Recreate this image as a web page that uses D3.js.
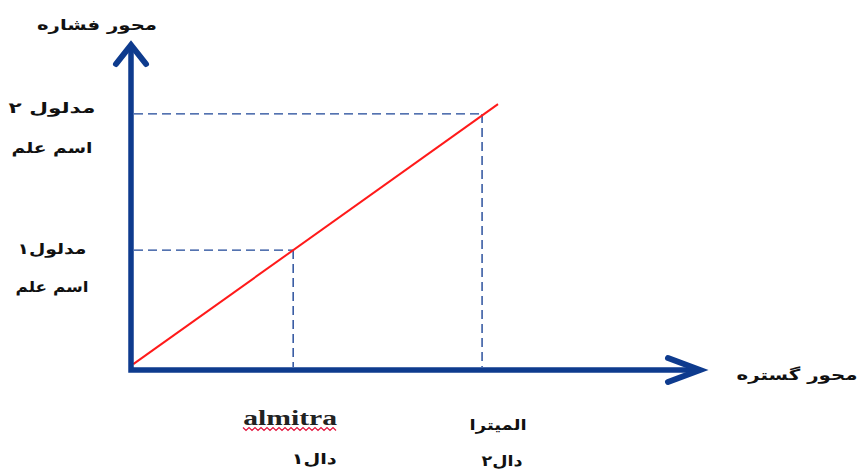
<!DOCTYPE html>
<html>
<head>
<meta charset="utf-8">
<script src="https://cdn.jsdelivr.net/npm/d3@7"></script>
<style>
	body { margin: 0; background: #fff; }
	svg { display: block; }
	.fa { font-family: "DejaVu Sans", sans-serif; font-size: 15px; font-weight: bold; fill: #111; }
</style>
</head>
<body>
<script>
	var w = 861;
	var h = 470;

	// data: axis extent, the red line and the two marked points
	var axisMax = [10, 10];
	var lineX = [0.04, 6.45];
	var lineY = [0.18, 8.18];
	var markX = [2.85, 6.17];
	var markY = [3.69, 7.88];

	// texts
	var yTitle = "محور فشاره";
	var xTitle = "محور گستره";
	var yLabels = [["مدلول۱", "اسم علم"], ["مدلول ۲", "اسم علم"]];
	var xLabels = [["almitra", "دال۱"], ["المیترا", "دال۲"]];

	var x = d3.scaleLinear().domain([0, axisMax[0]]).range([131, 700]);
	var y = d3.scaleLinear().domain([0, axisMax[1]]).range([370, 45]);

	var svg = d3.select("body").append("svg")
		.attr("width", w)
		.attr("height", h);

	var axisColor = "#0e3b8e";

	function label(txt, cx, cy, len) {
		return svg.append("text").attr("class", "fa").attr("direction", "rtl")
			.attr("x", cx).attr("y", cy)
			.attr("text-anchor", "middle").attr("dominant-baseline", "central")
			.attr("textLength", len).attr("lengthAdjust", "spacingAndGlyphs")
			.text(txt);
	}

	// dashed guides
	for (var i = 0; i < markX.length; i++) {
		svg.append("line")
			.attr("x1", x(0) + 3).attr("y1", y(markY[i]))
			.attr("x2", x(markX[i])).attr("y2", y(markY[i]))
			.attr("stroke", "#1d4597").attr("stroke-width", 1.4)
			.attr("stroke-dasharray", "9,5");
		svg.append("line")
			.attr("x1", x(markX[i])).attr("y1", y(markY[i]))
			.attr("x2", x(markX[i])).attr("y2", y(0) - 3)
			.attr("stroke", "#1d4597").attr("stroke-width", 1.4)
			.attr("stroke-dasharray", "9,5");
	}

	// red line
	svg.append("line")
		.attr("x1", x(lineX[0])).attr("y1", y(lineY[0]))
		.attr("x2", x(lineX[1])).attr("y2", y(lineY[1]))
		.attr("stroke", "#ff1a1a").attr("stroke-width", 2);

	// axes with arrow heads
	svg.append("path")
		.attr("d", "M" + x(0) + "," + (y(axisMax[1]) + 2) + "V" + y(0) + "H" + (x(axisMax[0]) - 2))
		.attr("fill", "none").attr("stroke", axisColor).attr("stroke-width", 5.5);
	svg.append("path")
		.attr("d", "M" + (x(0) - 15) + "," + (y(axisMax[1]) + 19) + "L" + x(0) + "," + y(axisMax[1]) + "L" + (x(0) + 15) + "," + (y(axisMax[1]) + 19))
		.attr("fill", "none").attr("stroke", axisColor).attr("stroke-width", 6)
		.attr("stroke-linecap", "round").attr("stroke-linejoin", "miter");
	svg.append("path")
		.attr("d", "M" + (x(axisMax[0]) - 32) + "," + (y(0) - 12) + "L" + x(axisMax[0]) + "," + y(0) + "L" + (x(axisMax[0]) - 32) + "," + (y(0) + 12))
		.attr("fill", "none").attr("stroke", axisColor).attr("stroke-width", 6)
		.attr("stroke-linecap", "round").attr("stroke-linejoin", "miter");

	// axis titles
	label(yTitle, 97, 25, 120);
	label(xTitle, 797, 375, 121);

	// y labels
	var yOff = [[-1, 37], [-6, 34]];
	var yLen = [[69, 73], [87, 81]];
	for (var i = 0; i < yLabels.length; i++) {
		for (var j = 0; j < 2; j++) {
			label(yLabels[i][j], 52, y(markY[i]) + yOff[i][j], yLen[i][j]);
		}
	}

	// x labels
	svg.append("text")
		.attr("x", x(markX[0]) - 3).attr("y", 418)
		.attr("text-anchor", "middle").attr("dominant-baseline", "central")
		.attr("font-family", "Liberation Serif").attr("font-size", 20).attr("font-weight", "bold")
		.attr("textLength", 94).attr("lengthAdjust", "spacingAndGlyphs")
		.attr("fill", "#222").text(xLabels[0][0]);
	var wave = d3.range(0, 96, 3).map(function(d, k) { return [243 + d, 429 + (k % 2 ? 1.5 : -1.5)]; });
	svg.append("path")
		.attr("d", d3.line()(wave))
		.attr("fill", "none").attr("stroke", "#e0103a").attr("stroke-width", 1.2);
	label(xLabels[0][1], x(markX[0]) + 21, 459, 45);
	label(xLabels[1][0], x(markX[1]) + 16, 425, 57);
	label(xLabels[1][1], x(markX[1]) + 20, 461, 41);
</script>
</body>
</html>
